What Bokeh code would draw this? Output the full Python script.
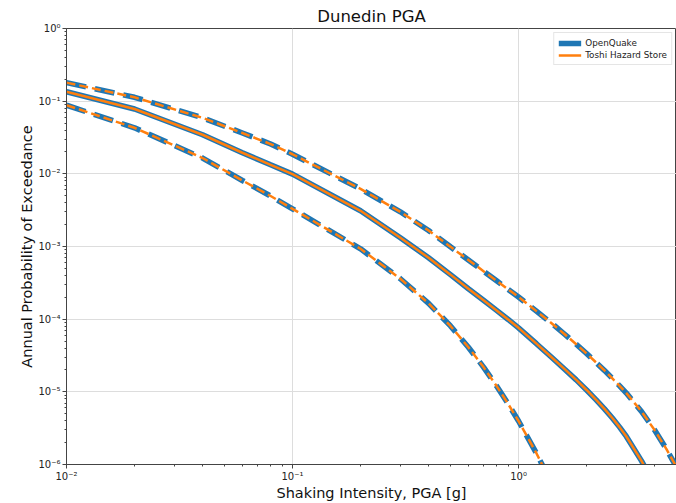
from bokeh.plotting import figure
from bokeh.models import (FixedTicker, Range1d, Legend, LegendItem,
                          CustomJSTickFormatter, ColumnDataSource)
from bokeh.embed import file_html
from bokeh.resources import INLINE

# ---- data ----
levels = [0.01, 0.02, 0.04, 0.06, 0.08, 0.1, 0.2, 0.3, 0.4, 0.5, 0.6, 0.7,
          0.8, 0.9, 1.0, 1.2, 1.4, 1.6, 1.8, 2.0, 2.2, 2.4, 2.6, 2.8, 3.0,
          3.5, 4.0, 4.5, 5.0]
mean = [0.135, 0.078, 0.0345, 0.0195, 0.0133, 0.0099, 3.1e-3, 1.32e-3, 7.0e-4,
        4.1e-4, 2.62e-4, 1.82e-4, 1.32e-4, 9.9e-5, 7.6e-5, 4.6e-5, 2.99e-5,
        2.05e-5, 1.46e-5, 1.06e-5, 7.83e-6, 5.82e-6, 4.36e-6, 3.27e-6, 2.43e-6,
        1.12e-6, 5.3e-7, 2.6e-7, 1.3e-7]
upper = [0.18, 0.113, 0.059, 0.0365, 0.0257, 0.0186, 6.2e-3, 3.0e-3, 1.66e-3,
         9.9e-4, 6.53e-4, 4.58e-4, 3.37e-4, 2.57e-4, 2.02e-4, 1.29e-4, 8.8e-5,
         6.2e-5, 4.52e-5, 3.37e-5, 2.55e-5, 1.97e-5, 1.53e-5, 1.21e-5, 9.6e-6,
         5.36e-6, 2.98e-6, 1.65e-6, 9.2e-7]
lower = [0.088, 0.043, 0.0165, 8.1e-3, 4.95e-3, 3.3e-3, 9.3e-4, 3.6e-4,
         1.65e-4, 8.07e-5, 4.11e-5, 2.19e-5, 1.2e-5, 6.8e-6, 3.97e-6, 1.43e-6,
         5.5e-7, 2.0e-7, 8e-8, 3.5e-8, 1.5e-8, 7e-9, 3e-9, 1.5e-9, 8e-10,
         2e-10, 5e-11, 1.5e-11, 5e-12]

x_tick_values = [0.01, 0.1, 1.0]
x_tick_exps = [-2, -1, 0]
x_tick_labels = ["10\u207b\u00b2", "10\u207b\u00b9", "10\u2070"]
y_tick_values = [1e-6, 1e-5, 1e-4, 1e-3, 1e-2, 1e-1, 1.0]
y_tick_exps = [-6, -5, -4, -3, -2, -1, 0]
y_tick_labels = ["10\u207b\u2076", "10\u207b\u2075", "10\u207b\u2074",
                 "10\u207b\u00b3", "10\u207b\u00b2", "10\u207b\u00b9", "10\u2070"]

title_text = "Dunedin PGA"
x_label = "Shaking Intensity, PGA [g]"
y_label = "Annual Probability of Exceedance"
series_names = ["OpenQuake", "Toshi Hazard Store"]

BLUE = "#1f77b4"
ORANGE = "#ff7f0e"
FONT = "DejaVu Sans"

src = ColumnDataSource(dict(x=levels, mean=mean, upper=upper, lower=lower))

p = figure(width=676, height=503, x_axis_type="log", y_axis_type="log",
           x_range=Range1d(0.01, 5.0), y_range=Range1d(1e-6, 1.0),
           output_backend="svg", toolbar_location=None,
           min_border_left=66, min_border_right=0, min_border_top=28,
           min_border_bottom=39, title=title_text)

p.title.align = "center"
p.title.text_font = FONT
p.title.text_font_size = "16.5px"
p.title.text_font_style = "normal"
p.title.text_color = "#111111"
p.title.standoff = 5

# lines: blue (OpenQuake) thick underneath, orange (Toshi) thin on top
r_blue_mean = p.line("x", "mean", source=src, line_color=BLUE, line_width=5.5)
p.line("x", "upper", source=src, line_color=BLUE, line_width=5.5, line_dash="20 9")
p.line("x", "lower", source=src, line_color=BLUE, line_width=5.5, line_dash="20 9")
r_or_mean = p.line("x", "mean", source=src, line_color=ORANGE, line_width=2.5)
p.line("x", "upper", source=src, line_color=ORANGE, line_width=2.5, line_dash="9 4")
p.line("x", "lower", source=src, line_color=ORANGE, line_width=2.5, line_dash="9 4")

# ticks
x_minor = [m * 10.0 ** e for e in (-2, -1, 0) for m in range(2, 10)]
y_minor = [m * 10.0 ** e for e in range(-6, 0) for m in range(2, 10)]
xt = FixedTicker(ticks=x_tick_values, minor_ticks=x_minor)
yt = FixedTicker(ticks=y_tick_values, minor_ticks=y_minor)
p.xaxis.ticker = xt
p.yaxis.ticker = yt
code = "const e = Math.round(Math.log10(tick)); const i = exps.indexOf(e); return i >= 0 ? labels[i] : '';"
p.xaxis.formatter = CustomJSTickFormatter(args=dict(exps=x_tick_exps, labels=x_tick_labels), code=code)
p.yaxis.formatter = CustomJSTickFormatter(args=dict(exps=y_tick_exps, labels=y_tick_labels), code=code)

for ax in (p.xaxis, p.yaxis):
    ax.major_tick_in = 0
    ax.major_tick_out = 4
    ax.minor_tick_in = 0
    ax.minor_tick_out = 2
    ax.axis_line_color = "#444444"
    ax.major_tick_line_color = "#444444"
    ax.minor_tick_line_color = "#444444"
    ax.major_label_text_font = FONT
    ax.major_label_text_font_size = "10px"
    ax.major_label_text_color = "#222222"
    ax.major_label_standoff = 2
    ax.axis_label_text_font = FONT
    ax.axis_label_text_font_size = "14.5px"
    ax.axis_label_text_font_style = "normal"
    ax.axis_label_text_color = "#111111"
    ax.axis_label_standoff = 0

p.xaxis.axis_label = x_label
p.yaxis.axis_label = y_label

p.xgrid.grid_line_color = "#dddddd"
p.ygrid.grid_line_color = "#dddddd"
p.xgrid.grid_line_width = 1
p.ygrid.grid_line_width = 1
p.outline_line_color = "#444444"

legend = Legend(items=[LegendItem(label=series_names[0], renderers=[r_blue_mean]),
                       LegendItem(label=series_names[1], renderers=[r_or_mean])],
                location="top_right")
legend.label_text_font = FONT
legend.label_text_font_size = "8.8px"
legend.label_text_color = "#222222"
legend.glyph_width = 23
legend.glyph_height = 10
legend.label_height = 11
legend.label_standoff = 4
legend.spacing = 1
legend.padding = 4
legend.margin = 4
legend.border_line_color = "#cccccc"
legend.background_fill_alpha = 0.8
p.add_layout(legend)

open("out.html", "w").write(file_html(p, INLINE))
